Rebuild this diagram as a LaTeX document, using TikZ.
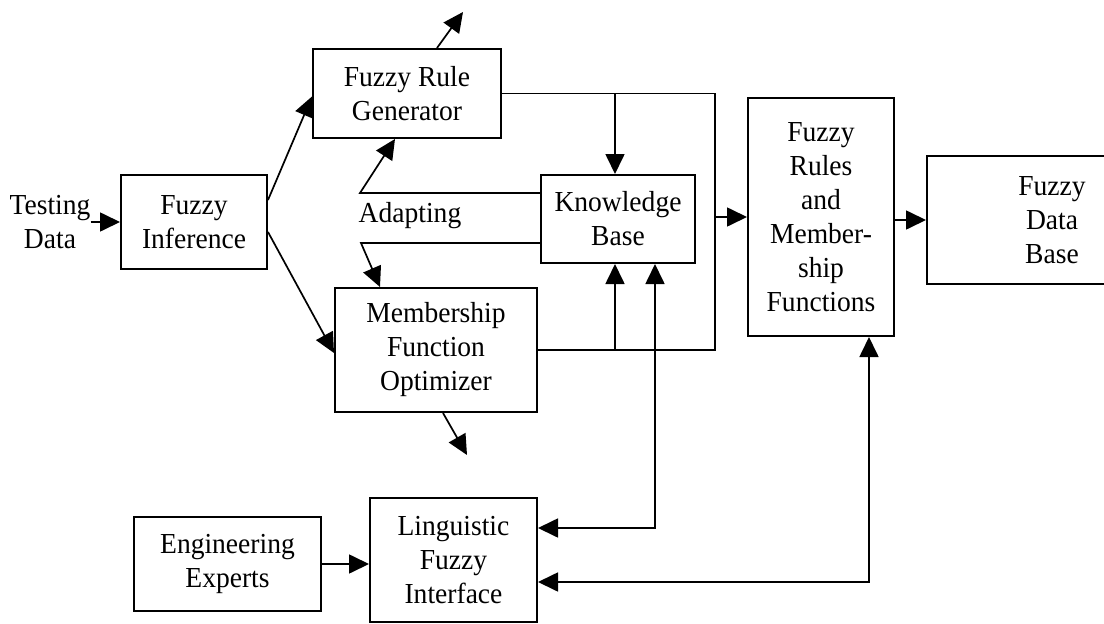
\documentclass[tikz,border=0pt]{standalone}
\usepackage{fontspec}
\setmainfont{Liberation Serif}[FakeStretch=0.95]
\usetikzlibrary{arrows.meta,calc}
\begin{document}
\begin{tikzpicture}[x=1pt,y=-1pt,
  every node/.style={font=\fontsize{29}{34}\selectfont, align=center, inner sep=0pt},
  block/.style={draw, line width=2pt},
  link/.style={line width=1.7pt},
  arr/.style={link, -{Triangle[length=20pt,width=19pt]}},
  biarr/.style={link, {Triangle[length=20pt,width=19pt]}-{Triangle[length=20pt,width=19pt]}}]
\useasboundingbox (0,0) rectangle (1104,624);
\clip (0,0) rectangle (1104,624);

% blocks
\node[block, minimum width=146pt, minimum height=94pt]  (inf) at (194,222)    {Fuzzy\\Inference};
\node[block, minimum width=188pt, minimum height=89pt]  (frg) at (407,93.5)   {Fuzzy Rule\\Generator};
\node[block, minimum width=202pt, minimum height=124pt] (mfo) at (436,350)    {Membership\\Function\\Optimizer};
\node[block, minimum width=154pt, minimum height=88pt]  (kb)  at (618,219)    {Knowledge\\Base};
\node[block, minimum width=146pt, minimum height=238pt] (frm) at (821,217)    {Fuzzy\\Rules\\and\\Member-\\ship\\Functions};
\node[block, minimum width=250pt, minimum height=128pt] (fdb) at (1052,220)   {Fuzzy\\Data\\Base};
\node[block, minimum width=187pt, minimum height=94pt]  (ee)  at (227.5,564)  {Engineering\\Experts};
\node[block, minimum width=167pt, minimum height=124pt] (lfi) at (453.5,560)  {Linguistic\\Fuzzy\\Interface};

% free labels
\node (td) at (50,222) {Testing\\Data};
\node (adapt) at (410,216) {Adapting};

% helper points
\coordinate (bt) at (715,93.5);
\coordinate (bb) at (715,350);
\coordinate (a1) at (360,193);
\coordinate (a2) at (361,243);
\coordinate (o1) at (463,12);
\coordinate (o2) at (467,455);

% input side
\draw[arr] (td.east) -- (inf.west);
\draw[arr] ([yshift=22pt]inf.east) -- ([yshift=-3pt]frg.west);
\draw[arr] ([yshift=-10pt]inf.east) -- ([yshift=-3pt]mfo.west);

% outputs leaving the generator and the optimizer
\draw[arr] ([xshift=30pt]frg.north) -- (o1);
\draw[arr] ([xshift=7pt]mfo.south) -- (o2);

% adapting loop from the knowledge base
\draw[arr] ([yshift=26pt]kb.west) -- (a1) -- ([xshift=-12pt]frg.south);
\draw[arr] ([yshift=-24pt]kb.west) -- (a2) -- ([xshift=-56pt]mfo.north);

% bus on the right of generator and optimizer
\draw[link] (frg.east) -- (bt) -- (bb) -- (mfo.east);
\draw[arr] ([xshift=-3pt]kb.north |- bt) -- ([xshift=-3pt]kb.north);
\draw[arr] ([xshift=-3pt]kb.south |- bb) -- ([xshift=-3pt]kb.south);
\draw[arr] (bt |- frm.west) -- (frm.west);
\draw[arr] (frm.east |- fdb.west) -- (fdb.west);

% linguistic interface links
\draw[arr] (ee.east) -- (ee.east -| lfi.west);
\draw[biarr] ([yshift=32pt]lfi.east) -| ([xshift=37pt]kb.south);
\draw[biarr] ([yshift=-22pt]lfi.east) -| ([xshift=48pt]frm.south);
\end{tikzpicture}
\end{document}
